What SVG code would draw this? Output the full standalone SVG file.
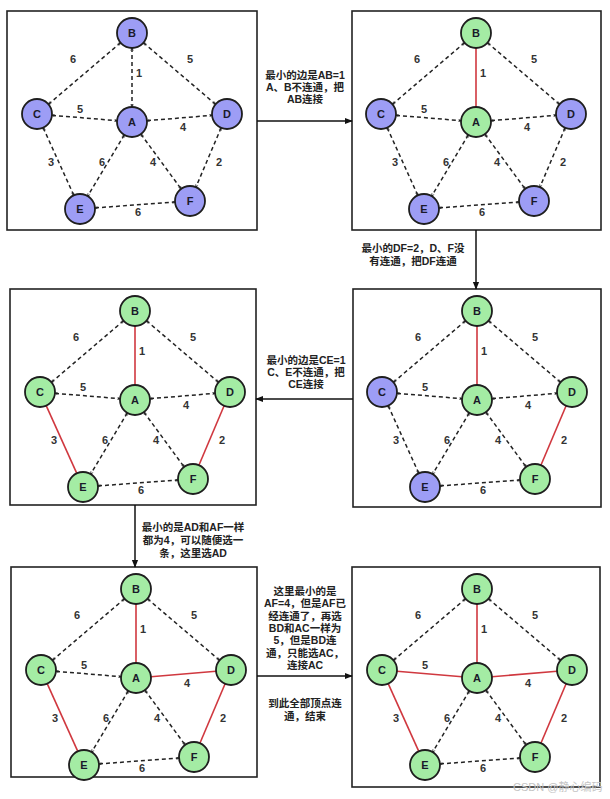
<svg xmlns="http://www.w3.org/2000/svg" width="610" height="799" viewBox="0 0 610 799">
<style>
.frame{fill:#fff;stroke:#222;stroke-width:1.6}
.dash{stroke:#222;stroke-width:1.5;stroke-dasharray:4 3;fill:none;marker-start:url(#tip);marker-end:url(#tip)}
.red{stroke:#d0383f;stroke-width:1.6;fill:none}
.flow{stroke:#111;stroke-width:1.5;fill:none;marker-end:url(#arr)}
.node circle{stroke:#1e1e1e;stroke-width:1.8}
.blue circle{fill:#9d9df5}
.green circle{fill:#a4eca4}
.node text{font-family:"Liberation Sans","Noto Sans",sans-serif;font-size:11px;font-weight:bold;fill:#1a1a2a;text-anchor:middle}
.lbl{font-family:"Liberation Sans","Noto Sans",sans-serif;font-size:11px;font-weight:bold;fill:#333;text-anchor:middle}
.note{font-family:"Liberation Sans","Noto Sans CJK SC",sans-serif;font-size:10.5px;font-weight:bold;fill:#222;text-anchor:middle}
.wm{font-family:"Liberation Sans","Noto Sans CJK SC",sans-serif;font-size:11px;fill:#c4c4c4}
</style>
<defs>
<marker id="tip" viewBox="0 0 8 8" refX="7" refY="4" markerWidth="3.5" markerHeight="3.5" orient="auto-start-reverse" markerUnits="userSpaceOnUse"><path d="M1,1 L7,4 L1,7" fill="none" stroke="#222" stroke-width="1.5"/></marker>
<marker id="arr" viewBox="0 0 10 10" refX="9" refY="5" markerWidth="8" markerHeight="8" orient="auto" markerUnits="userSpaceOnUse"><path d="M0,1 L10,5 L0,9 Z" fill="#111"/></marker>
<g id="lbls">
<text class="lbl" x="73" y="63">6</text>
<text class="lbl" x="190" y="63">5</text>
<text class="lbl" x="139" y="77">1</text>
<text class="lbl" x="80" y="113">5</text>
<text class="lbl" x="183" y="131">4</text>
<text class="lbl" x="51" y="166">3</text>
<text class="lbl" x="102" y="166">6</text>
<text class="lbl" x="153" y="166">4</text>
<text class="lbl" x="219" y="166">2</text>
<text class="lbl" x="138" y="216">6</text>
</g>
</defs>
<rect width="610" height="799" fill="#fff"/>
<g id="frames">
<rect class="frame" x="7" y="11" width="250" height="219"/>
<rect class="frame" x="352" y="11" width="249" height="219"/>
<rect class="frame" x="10" y="289" width="246" height="216"/>
<rect class="frame" x="353" y="289" width="248" height="218"/>
<rect class="frame" x="11" y="567" width="246" height="210"/>
<rect class="frame" x="352" y="567" width="248" height="220"/>
</g>
<g id="connectors">
<line class="flow" x1="257" y1="121" x2="352" y2="121"/>
<line class="flow" x1="476" y1="230" x2="476" y2="289"/>
<line class="flow" x1="353" y1="399" x2="256" y2="399"/>
<line class="flow" x1="135" y1="505" x2="135" y2="567"/>
<line class="flow" x1="257" y1="676" x2="352" y2="676"/>
</g>
<g id="notes">
<text class="note" x="305" y="79">最小的边是AB=1</text>
<text class="note" x="305" y="91">A、B不连通，把</text>
<text class="note" x="305" y="103">AB连接</text>
<text class="note" x="413" y="252">最小的DF=2，D、F没</text>
<text class="note" x="413" y="265">有连通，把DF连通</text>
<text class="note" x="306" y="364">最小的边是CE=1</text>
<text class="note" x="306" y="376">C、E不连通，把</text>
<text class="note" x="306" y="388">CE连接</text>
<text class="note" x="193" y="531">最小的是AD和AF一样</text>
<text class="note" x="193" y="544">都为4，可以随便选一</text>
<text class="note" x="193" y="557">条，这里选AD</text>
<text class="note" x="305" y="595">这里最小的是</text>
<text class="note" x="305" y="607">AF=4，但是AF已</text>
<text class="note" x="305" y="619.5">经连通了，再选</text>
<text class="note" x="305" y="632">BD和AC一样为</text>
<text class="note" x="305" y="644">5，但是BD连</text>
<text class="note" x="305" y="656.5">通，只能选AC，</text>
<text class="note" x="305" y="669">连接AC</text>
<text class="note" x="305" y="707">到此全部顶点连</text>
<text class="note" x="305" y="720">通，结束</text>
</g>

<!-- Panel 1 -->
<g id="panel1">
<g id="p1-edges">
<line class="dash" x1="132" y1="48" x2="132" y2="107"/>
<line class="dash" x1="120.6" y1="42.7" x2="48.4" y2="104.3"/>
<line class="dash" x1="143.4" y1="42.7" x2="215.6" y2="104.3"/>
<line class="dash" x1="52" y1="115.3" x2="117" y2="120.7"/>
<line class="dash" x1="147" y1="120.7" x2="212" y2="115.3"/>
<line class="dash" x1="43.2" y1="127.7" x2="73.8" y2="195.3"/>
<line class="dash" x1="124.3" y1="134.9" x2="87.7" y2="196.1"/>
<line class="dash" x1="140.9" y1="134.1" x2="181.1" y2="188.9"/>
<line class="dash" x1="221.1" y1="127.8" x2="195.9" y2="187.2"/>
<line class="dash" x1="95" y1="207.9" x2="175" y2="202.1"/>
</g>
<use href="#lbls"/>
<g id="p1-B" class="node blue"><circle cx="132" cy="33" r="15"/><text x="132" y="37">B</text></g>
<g id="p1-C" class="node blue"><circle cx="37" cy="114" r="15"/><text x="37" y="118">C</text></g>
<g id="p1-A" class="node blue"><circle cx="132" cy="122" r="15"/><text x="132" y="126">A</text></g>
<g id="p1-D" class="node blue"><circle cx="227" cy="114" r="15"/><text x="227" y="118">D</text></g>
<g id="p1-E" class="node blue"><circle cx="80" cy="209" r="15"/><text x="80" y="213">E</text></g>
<g id="p1-F" class="node blue"><circle cx="190" cy="201" r="15"/><text x="190" y="205">F</text></g>
</g>

<!-- Panel 2 -->
<g id="panel2" transform="translate(344,0)">
<g id="p2-edges">
<line class="red" x1="132" y1="48" x2="132" y2="107"/>
<line class="dash" x1="120.6" y1="42.7" x2="48.4" y2="104.3"/>
<line class="dash" x1="143.4" y1="42.7" x2="215.6" y2="104.3"/>
<line class="dash" x1="52" y1="115.3" x2="117" y2="120.7"/>
<line class="dash" x1="147" y1="120.7" x2="212" y2="115.3"/>
<line class="dash" x1="43.2" y1="127.7" x2="73.8" y2="195.3"/>
<line class="dash" x1="124.3" y1="134.9" x2="87.7" y2="196.1"/>
<line class="dash" x1="140.9" y1="134.1" x2="181.1" y2="188.9"/>
<line class="dash" x1="221.1" y1="127.8" x2="195.9" y2="187.2"/>
<line class="dash" x1="95" y1="207.9" x2="175" y2="202.1"/>
</g>
<use href="#lbls"/>
<g id="p2-B" class="node green"><circle cx="132" cy="33" r="15"/><text x="132" y="37">B</text></g>
<g id="p2-C" class="node blue"><circle cx="37" cy="114" r="15"/><text x="37" y="118">C</text></g>
<g id="p2-A" class="node green"><circle cx="132" cy="122" r="15"/><text x="132" y="126">A</text></g>
<g id="p2-D" class="node blue"><circle cx="227" cy="114" r="15"/><text x="227" y="118">D</text></g>
<g id="p2-E" class="node blue"><circle cx="80" cy="209" r="15"/><text x="80" y="213">E</text></g>
<g id="p2-F" class="node blue"><circle cx="190" cy="201" r="15"/><text x="190" y="205">F</text></g>
</g>

<!-- Panel 3 -->
<g id="panel3" transform="translate(3,278)">
<g id="p3-edges">
<line class="red" x1="132" y1="48" x2="132" y2="107"/>
<line class="dash" x1="120.6" y1="42.7" x2="48.4" y2="104.3"/>
<line class="dash" x1="143.4" y1="42.7" x2="215.6" y2="104.3"/>
<line class="dash" x1="52" y1="115.3" x2="117" y2="120.7"/>
<line class="dash" x1="147" y1="120.7" x2="212" y2="115.3"/>
<line class="red" x1="43.2" y1="127.7" x2="73.8" y2="195.3"/>
<line class="dash" x1="124.3" y1="134.9" x2="87.7" y2="196.1"/>
<line class="dash" x1="140.9" y1="134.1" x2="181.1" y2="188.9"/>
<line class="red" x1="221.1" y1="127.8" x2="195.9" y2="187.2"/>
<line class="dash" x1="95" y1="207.9" x2="175" y2="202.1"/>
</g>
<use href="#lbls"/>
<g id="p3-B" class="node green"><circle cx="132" cy="33" r="15"/><text x="132" y="37">B</text></g>
<g id="p3-C" class="node green"><circle cx="37" cy="114" r="15"/><text x="37" y="118">C</text></g>
<g id="p3-A" class="node green"><circle cx="132" cy="122" r="15"/><text x="132" y="126">A</text></g>
<g id="p3-D" class="node green"><circle cx="227" cy="114" r="15"/><text x="227" y="118">D</text></g>
<g id="p3-E" class="node green"><circle cx="80" cy="209" r="15"/><text x="80" y="213">E</text></g>
<g id="p3-F" class="node green"><circle cx="190" cy="201" r="15"/><text x="190" y="205">F</text></g>
</g>

<!-- Panel 4 -->
<g id="panel4" transform="translate(345,278)">
<g id="p4-edges">
<line class="red" x1="132" y1="48" x2="132" y2="107"/>
<line class="dash" x1="120.6" y1="42.7" x2="48.4" y2="104.3"/>
<line class="dash" x1="143.4" y1="42.7" x2="215.6" y2="104.3"/>
<line class="dash" x1="52" y1="115.3" x2="117" y2="120.7"/>
<line class="dash" x1="147" y1="120.7" x2="212" y2="115.3"/>
<line class="dash" x1="43.2" y1="127.7" x2="73.8" y2="195.3"/>
<line class="dash" x1="124.3" y1="134.9" x2="87.7" y2="196.1"/>
<line class="dash" x1="140.9" y1="134.1" x2="181.1" y2="188.9"/>
<line class="red" x1="221.1" y1="127.8" x2="195.9" y2="187.2"/>
<line class="dash" x1="95" y1="207.9" x2="175" y2="202.1"/>
</g>
<use href="#lbls"/>
<g id="p4-B" class="node green"><circle cx="132" cy="33" r="15"/><text x="132" y="37">B</text></g>
<g id="p4-C" class="node blue"><circle cx="37" cy="114" r="15"/><text x="37" y="118">C</text></g>
<g id="p4-A" class="node green"><circle cx="132" cy="122" r="15"/><text x="132" y="126">A</text></g>
<g id="p4-D" class="node green"><circle cx="227" cy="114" r="15"/><text x="227" y="118">D</text></g>
<g id="p4-E" class="node blue"><circle cx="80" cy="209" r="15"/><text x="80" y="213">E</text></g>
<g id="p4-F" class="node green"><circle cx="190" cy="201" r="15"/><text x="190" y="205">F</text></g>
</g>

<!-- Panel 5 -->
<g id="panel5" transform="translate(4,556)">
<g id="p5-edges">
<line class="red" x1="132" y1="48" x2="132" y2="107"/>
<line class="dash" x1="120.6" y1="42.7" x2="48.4" y2="104.3"/>
<line class="dash" x1="143.4" y1="42.7" x2="215.6" y2="104.3"/>
<line class="dash" x1="52" y1="115.3" x2="117" y2="120.7"/>
<line class="red" x1="147" y1="120.7" x2="212" y2="115.3"/>
<line class="red" x1="43.2" y1="127.7" x2="73.8" y2="195.3"/>
<line class="dash" x1="124.3" y1="134.9" x2="87.7" y2="196.1"/>
<line class="dash" x1="140.9" y1="134.1" x2="181.1" y2="188.9"/>
<line class="red" x1="221.1" y1="127.8" x2="195.9" y2="187.2"/>
<line class="dash" x1="95" y1="207.9" x2="175" y2="202.1"/>
</g>
<use href="#lbls"/>
<g id="p5-B" class="node green"><circle cx="132" cy="33" r="15"/><text x="132" y="37">B</text></g>
<g id="p5-C" class="node green"><circle cx="37" cy="114" r="15"/><text x="37" y="118">C</text></g>
<g id="p5-A" class="node green"><circle cx="132" cy="122" r="15"/><text x="132" y="126">A</text></g>
<g id="p5-D" class="node green"><circle cx="227" cy="114" r="15"/><text x="227" y="118">D</text></g>
<g id="p5-E" class="node green"><circle cx="80" cy="209" r="15"/><text x="80" y="213">E</text></g>
<g id="p5-F" class="node green"><circle cx="190" cy="201" r="15"/><text x="190" y="205">F</text></g>
</g>

<!-- Panel 6 -->
<g id="panel6" transform="translate(345,556)">
<g id="p6-edges">
<line class="red" x1="132" y1="48" x2="132" y2="107"/>
<line class="dash" x1="120.6" y1="42.7" x2="48.4" y2="104.3"/>
<line class="dash" x1="143.4" y1="42.7" x2="215.6" y2="104.3"/>
<line class="red" x1="52" y1="115.3" x2="117" y2="120.7"/>
<line class="red" x1="147" y1="120.7" x2="212" y2="115.3"/>
<line class="red" x1="43.2" y1="127.7" x2="73.8" y2="195.3"/>
<line class="dash" x1="124.3" y1="134.9" x2="87.7" y2="196.1"/>
<line class="dash" x1="140.9" y1="134.1" x2="181.1" y2="188.9"/>
<line class="red" x1="221.1" y1="127.8" x2="195.9" y2="187.2"/>
<line class="dash" x1="95" y1="207.9" x2="175" y2="202.1"/>
</g>
<use href="#lbls"/>
<g id="p6-B" class="node green"><circle cx="132" cy="33" r="15"/><text x="132" y="37">B</text></g>
<g id="p6-C" class="node green"><circle cx="37" cy="114" r="15"/><text x="37" y="118">C</text></g>
<g id="p6-A" class="node green"><circle cx="132" cy="122" r="15"/><text x="132" y="126">A</text></g>
<g id="p6-D" class="node green"><circle cx="227" cy="114" r="15"/><text x="227" y="118">D</text></g>
<g id="p6-E" class="node green"><circle cx="80" cy="209" r="15"/><text x="80" y="213">E</text></g>
<g id="p6-F" class="node green"><circle cx="190" cy="201" r="15"/><text x="190" y="205">F</text></g>
</g>

<text class="wm" x="513" y="791">CSDN @静心编码</text>
</svg>
